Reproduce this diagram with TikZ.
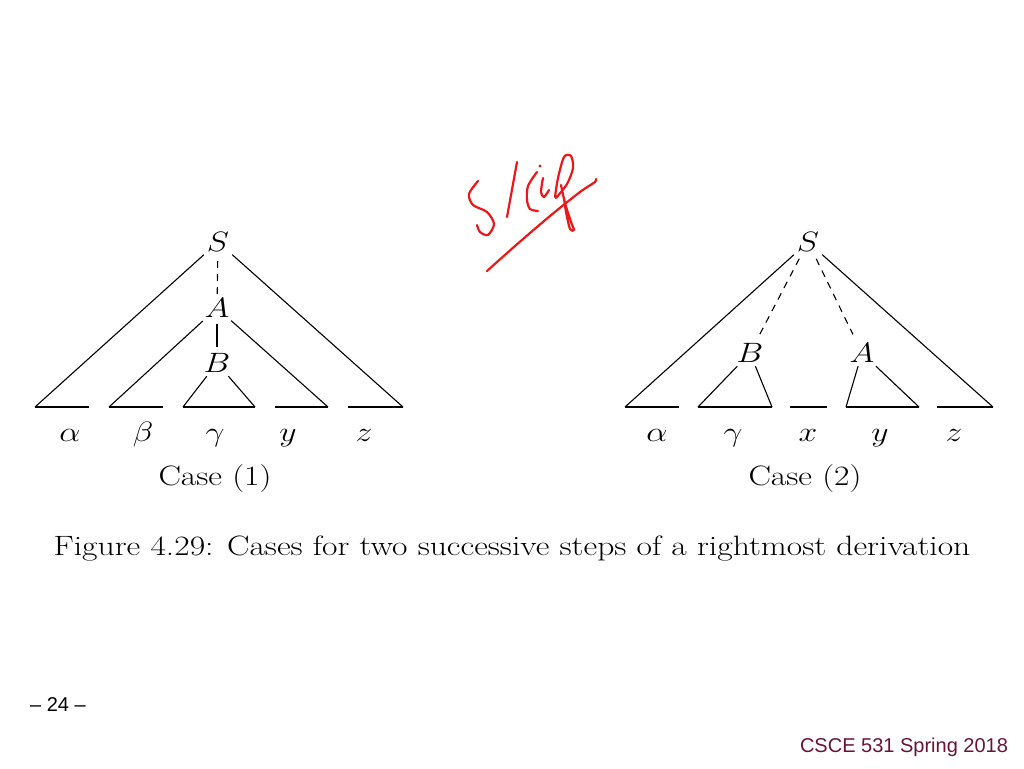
\RequirePackage{fix-cm}
\documentclass[tikz,border=0pt]{standalone}
\usepackage{fontspec}
\newfontfamily\footfont{Liberation Sans}
\usetikzlibrary{positioning}
\definecolor{footred}{RGB}{105,20,55}
\definecolor{inkred}{RGB}{238,22,22}
\newcommand{\widetext}[1]{\scalebox{1.2}[1]{#1}}
\newcommand{\widesym}[1]{\scalebox{1.2}[1]{$#1$}}

\begin{document}
\begin{tikzpicture}[
    x=1pt, y=-1pt,
    % --- STYLES ---
    sym/.style={
            inner sep=0pt,
            minimum width=28pt,
            minimum height=26pt,
            font=\fontsize{28}{34}\selectfont
        },
    leaf/.style={
            anchor=base,
            inner sep=0pt,
            font=\fontsize{28}{34}\selectfont
        },
    edge/.style={
            line width=1.1pt
        },
    derive/.style={
            line width=1.1pt,
            dash pattern=on 7pt off 6pt
        },
    caption/.style={
            anchor=base,
            inner sep=0pt,
            font=\fontsize{28}{34}\selectfont
        },
    foot/.style={
            anchor=base,
            inner sep=0pt,
            font=\footfont\fontsize{20}{24}\selectfont
        },
    ink/.style={
            draw=inkred,
            line width=2.2pt,
            line cap=round,
            line join=round
        }
    ]

    \useasboundingbox (0,0) rectangle (1024,768);

    % --- CASE (1) ---
    \node[sym] (S1) at (218,242) {\widesym{S}};
    \node[sym] (A1) at (217,308) {\widesym{A}};
    \node[sym] (B1) at (217,363) {\widesym{B}};

    \coordinate (p1) at (35,407);  \coordinate (p2) at (89,407);
    \coordinate (p3) at (109,407); \coordinate (p4) at (163,407);
    \coordinate (p5) at (183,407); \coordinate (p6) at (255,407);
    \coordinate (p7) at (275,407); \coordinate (p8) at (328,407);
    \coordinate (p9) at (348,407); \coordinate (p10) at (403,407);

    \draw[edge] (S1) -- (p1);
    \draw[edge] (S1) -- (p10);
    \draw[derive, shorten <=6pt] (S1) -- (A1);
    \draw[edge] (A1) -- (p3);
    \draw[edge] (A1) -- (p8);
    \draw[edge, shorten <=3pt, shorten >=3pt] (A1) -- (B1);
    \draw[edge] (B1) -- (p5);
    \draw[edge] (B1) -- (p6);

    \foreach \l/\r in {p1/p2, p3/p4, p5/p6, p7/p8, p9/p10}
        \draw[edge] (\l) -- (\r);

    \node[leaf] (alpha1) at (70,441) {\widesym{\alpha}};
    \node[leaf] (beta1) at (143,441) {\widesym{\beta}};
    \node[leaf] (gamma1) at (215,441) {\widesym{\gamma}};
    \node[leaf] (y1) at (288,441) {\widesym{y}};
    \node[leaf] (z1) at (364,441) {\widesym{z}};

    \node[caption] (case1) at (215,485) {\widetext{Case (1)}};

    % --- CASE (2) ---
    \node[sym] (S2) at (808,242) {\widesym{S}};
    \node[sym] (B2) at (750,353) {\widesym{B}};
    \node[sym] (A2) at (862,353) {\widesym{A}};

    \coordinate (q1) at (625,407);  \coordinate (q2) at (679,407);
    \coordinate (q3) at (698,407);  \coordinate (q4) at (772,407);
    \coordinate (q5) at (790,407);  \coordinate (q6) at (827,407);
    \coordinate (q7) at (846,407);  \coordinate (q8) at (919,407);
    \coordinate (q9) at (937,407);  \coordinate (q10) at (993,407);

    \draw[edge] (S2) -- (q1);
    \draw[edge] (S2) -- (q10);
    \draw[derive, shorten <=4pt, shorten >=6pt] (S2) -- (B2);
    \draw[derive, shorten <=4pt, shorten >=6pt] (S2) -- (A2);
    \draw[edge] (B2) -- (q3);
    \draw[edge] (B2) -- (q4);
    \draw[edge] (A2) -- (q7);
    \draw[edge] (A2) -- (q8);

    \foreach \l/\r in {q1/q2, q3/q4, q5/q6, q7/q8, q9/q10}
        \draw[edge] (\l) -- (\r);

    \node[leaf] (alpha2) at (657,441) {\widesym{\alpha}};
    \node[leaf] (gamma2) at (733,441) {\widesym{\gamma}};
    \node[leaf] (x2) at (808,441) {\widesym{x}};
    \node[leaf] (y2) at (880,441) {\widesym{y}};
    \node[leaf] (z2) at (954,441) {\widesym{z}};

    \node[caption] (case2) at (805,485) {\widetext{Case (2)}};

    % --- FIGURE CAPTION ---
    \node[caption] (figcap) at (512,555)
    {\widetext{Figure 4.29: Cases for two successive steps of a rightmost derivation}};

    % --- HANDWRITTEN NOTE ---
    \draw[ink] plot[smooth] coordinates {(478,181) (469,194) (473,205) (487,212) (494,224) (488,235) (480,232) (477,225)};
    \draw[ink] (517,162) -- (507,217);
    \draw[ink] plot[smooth] coordinates {(537,172) (528,186) (527,200) (530,209) (538,211)};
    \fill[inkred] (540,166) circle (1.6pt);
    \draw[ink] plot[smooth] coordinates {(543,178) (541,192) (544,197) (549,190)};
    \draw[ink] plot[smooth] coordinates {(555,197) (558,178) (564,157) (571,156) (573,168) (567,184) (556,198)};
    \draw[ink] plot[smooth] coordinates {(561,185) (565,203) (571,222) (574,230) (570,229) (566,212) (564,198)};
    \draw[ink] plot[smooth] coordinates {(487,271) (515,246) (550,216) (580,192) (595,182) (596,179)};

    % --- FOOTER ---
    \node[foot] (page) at (58,711) {– 24 –};
    \node[foot, text=footred] (course) at (904,752) {CSCE 531 Spring 2018};

\end{tikzpicture}
\end{document}
